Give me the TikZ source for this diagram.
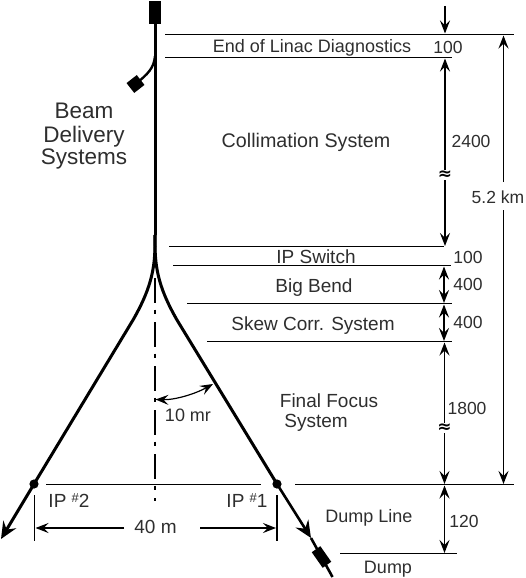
\documentclass[tikz,border=0pt]{standalone}
\usepackage{fontspec}
\setmainfont{Liberation Sans}
\newfontfamily\symfont{DejaVu Sans}
\usetikzlibrary{arrows.meta}
\tikzset{
  lbl/.style={inner sep=0pt,text height=13.5pt,text depth=0pt,font=\fontsize{19}{22}\selectfont,text=black!82},
  numlbl/.style={lbl,text height=12.6pt,font=\fontsize{17.5}{20}\selectfont},
  titlelbl/.style={lbl,text height=16pt,font=\fontsize{22.5}{26}\selectfont},
  rule/.style={line width=1.3pt,black},
  dim/.style={line width=1.3pt,black,{Stealth[length=13pt,width=10pt,inset=5pt]}-{Stealth[length=13pt,width=10pt,inset=5pt]}},
  dimdown/.style={line width=1.3pt,black,-{Stealth[length=13pt,width=10pt,inset=5pt]}},
  block/.style={fill=black,draw=none,inner sep=0pt},
  brk/.style={inner sep=0pt,font=\symfont\bfseries\fontsize{17}{17}\selectfont},
}
\begin{document}
\begin{tikzpicture}[x=1pt,y=-1pt]
\useasboundingbox (0,0) rectangle (526,578);
% beam line
\node[block,minimum width=12pt,minimum height=23pt] (top) at (155,12.5) {};
\node[block,minimum width=13pt,minimum height=12.5pt,rotate=38] (side) at (135.5,84) {};
\coordinate (split) at (155,235);
\coordinate (branch) at (155,56);
\coordinate (ipL) at (34,484);
\coordinate (ipR) at (277,484);
\coordinate (tipL) at (1,539);
\coordinate (tipR) at (311,538);
\coordinate (endR) at (332.5,577);
\node[block,minimum width=10.5pt,minimum height=19pt,rotate=35] (dumpblk) at (321.5,557) {};
\draw[line width=3pt,black] (top.south) -- (split);
\draw[line width=2.4pt,black] (branch) .. controls (154,68) and (148,74) .. (side.center);
\draw[line width=3pt,black] (split) .. controls (155.5,265) and (153,285) .. (133,320) -- (ipL);
\draw[line width=3pt,black] (split) .. controls (154.5,265) and (157,285) .. (177,320) -- (ipR);
\draw[line width=3pt,black,-{Stealth[length=17pt,width=15pt,inset=6pt]}] (ipL) -- (tipL);
\draw[line width=2.6pt,black,-{Stealth[length=17pt,width=15pt,inset=6pt]}] (ipR) -- (tipR);
\draw[line width=2.6pt,black] (tipR) -- (endR);
\fill[black] (ipL) circle (4.6pt);
\fill[black] (ipR) circle (4.6pt);
% centre line
\coordinate (cA) at (155,278);
\coordinate (cB) at (155,501);
\draw[line width=1.3pt,black,dash pattern=on 24.5pt off 7pt on 4pt off 8.5pt] (cA) -- (cB);
% horizontal rules
\foreach \n/\xa/\xb/\yy in {a/165/514/34.5,b/165/452/57.5,c/169/444/246.5,d/173/451/265.5,e/187/452/303.5,f/207/452/341.5,g/46/261/484.5,h/295/514/484.5,i/340/457/553.5}{
  \coordinate (\n1) at (\xa,\yy);
  \coordinate (\n2) at (\xb,\yy);
  \draw[rule] (\n1) -- (\n2);
}
% 40 m
\coordinate (tkL1) at (34.5,495); \coordinate (tkL2) at (34.5,541);
\coordinate (tkR1) at (277,495); \coordinate (tkR2) at (277,541);
\draw[rule] (tkL1) -- (tkL2);
\draw[rule] (tkR1) -- (tkR2);
\node[lbl] (forty) at (155.5,527) {40 m};
\coordinate (fl) at (124,528); \coordinate (flt) at (35.5,528);
\coordinate (fr) at (200,528); \coordinate (frt) at (276,528);
\draw[dimdown] (fl) -- (flt);
\draw[dimdown] (fr) -- (frt);
% angle
\coordinate (angA) at (155.5,399.5);
\coordinate (angB) at (213,384);
\draw[dim,line width=1.2pt] (angA) .. controls (175,400) and (195,394) .. (angB);
% vertical dimensions
\coordinate (v0) at (445,6);
\coordinate (v1) at (445,33.5);
\coordinate (v2) at (445,58.5);
\coordinate (v3) at (445,246);
\coordinate (v4) at (444,266.5);
\coordinate (v5) at (444,303);
\coordinate (v6) at (444,304.5);
\coordinate (v7) at (444,341);
\coordinate (v8) at (444.5,342.5);
\coordinate (v9) at (444.5,484);
\coordinate (v10) at (444.5,485.5);
\coordinate (v11) at (444.5,553);
\draw[dimdown] (v0) -- (v1);
\draw[dim] (v2) -- (v3);
\draw[dim] (v4) -- (v5);
\draw[dim] (v6) -- (v7);
\draw[dim] (v8) -- (v9);
\draw[dim] (v10) -- (v11);
\node[brk,fill=white,inner ysep=0.5pt] at (445,175) {≈};
\node[brk,fill=white,inner ysep=0.5pt] at (444.5,428) {≈};
\node[numlbl] (km) at (498,197) {5.2 km};
\coordinate (kmT) at (503.5,35.5);
\coordinate (kmB) at (503.5,484);
\coordinate (kmU) at (503.5,182);
\coordinate (kmD) at (503.5,210);
\draw[dimdown] (kmU) -- (kmT);
\draw[dimdown] (kmD) -- (kmB);
% labels
\node[lbl,font=\fontsize{18}{22}\selectfont] at (312,46) {End of Linac Diagnostics};
\node[numlbl] at (448,47) {100};
\node[titlelbl] at (84,110) {Beam};
\node[titlelbl] at (84,134) {Delivery};
\node[titlelbl] at (84,156) {Systems};
\node[lbl,font=\fontsize{19.7}{22}\selectfont] at (306,141) {Collimation System};
\node[numlbl] at (471,141) {2400};
\node[lbl] at (316,257) {IP Switch};
\node[numlbl] at (468,257) {100};
\node[lbl] at (314,286) {Big Bend};
\node[numlbl] at (468,284) {400};
\node[lbl] at (313,324) {Skew Corr. System};
\node[numlbl] at (468,322) {400};
\node[lbl] at (329,401) {Final Focus};
\node[lbl] at (316,421) {System};
\node[numlbl] at (467,408) {1800};
\node[lbl,font=\fontsize{18}{22}\selectfont] at (188,415) {10 mr};
\node[lbl] at (69,501) {IP \raisebox{5pt}{\fontsize{13}{14}\selectfont\#}2};
\node[lbl] at (247,501) {IP \raisebox{5pt}{\fontsize{13}{14}\selectfont\#}1};
\node[lbl,font=\fontsize{18}{22}\selectfont] at (369,516) {Dump Line};
\node[numlbl] at (464,521) {120};
\node[lbl,font=\fontsize{18}{22}\selectfont] at (388,567) {Dump};
\end{tikzpicture}
\end{document}
